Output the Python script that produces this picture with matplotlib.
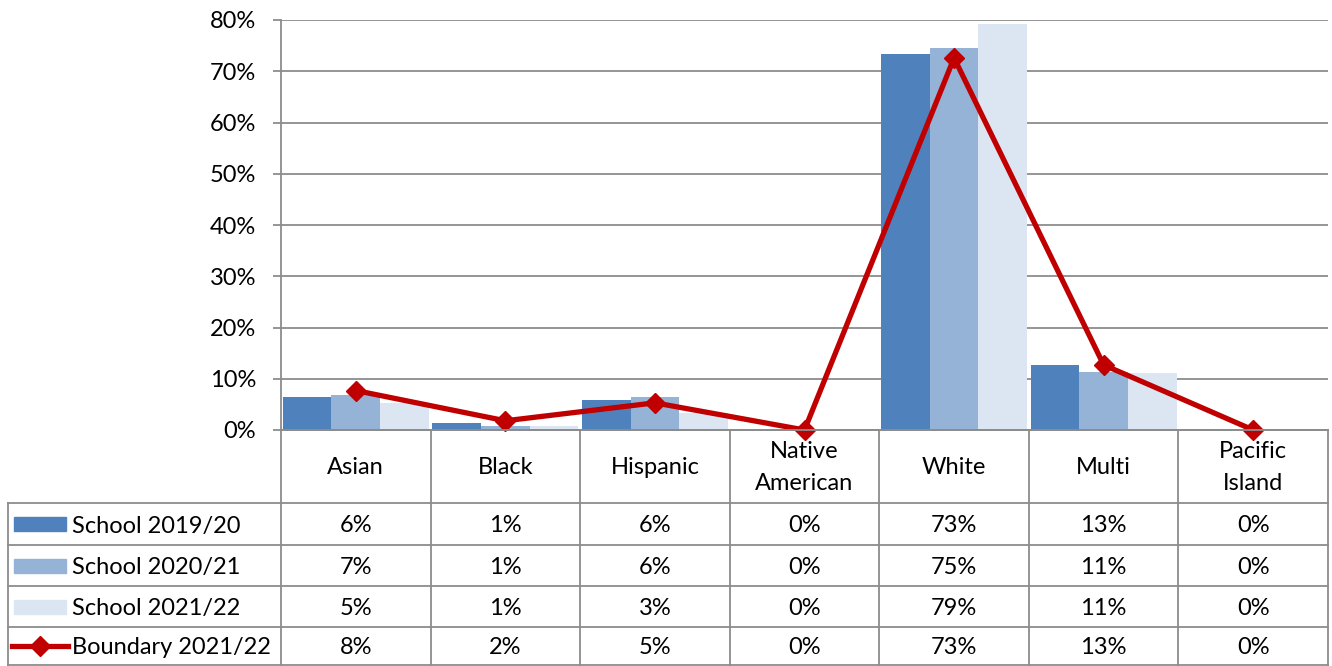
import matplotlib
matplotlib.use('Agg')
import matplotlib.pyplot as plt
from matplotlib.ticker import FuncFormatter
from matplotlib.lines import Line2D

plt.rcParams['font.family'] = ['Lato', 'DejaVu Sans']

categories = ["Asian", "Black", "Hispanic", "Native\nAmerican", "White", "Multi", "Pacific\nIsland"]
school_1920 = [6.4, 1.4, 5.9, 0.0, 73.3, 12.6, 0.0]
school_2021 = [6.8, 0.85, 6.4, 0.0, 74.6, 11.4, 0.0]
school_2122 = [5.2, 0.7, 3.4, 0.0, 79.3, 11.1, 0.0]
boundary_2122 = [7.7, 1.8, 5.3, 0.0, 72.6, 12.7, 0.0]
series_names = ["School 2019/20", "School 2020/21", "School 2021/22", "Boundary 2021/22"]

bar_colors = ['#4F81BD', '#95B3D7', '#DCE6F2']
line_color = '#C00000'
grid_color = '#8C8C8C'

W, H = 1332, 666
fig = plt.figure(figsize=(W / 100, H / 100), dpi=100)

# plot area in pixels
px_left, px_right, px_top, px_bottom = 281, 1328, 20, 430
ax = fig.add_axes([px_left / W, 1 - px_bottom / H,
                   (px_right - px_left) / W, (px_bottom - px_top) / H])

fs = 17
n = len(categories)
xs = list(range(n))
bw = 0.325
for j, vals in enumerate([school_1920, school_2021, school_2122]):
    ax.bar([x + (j - 1) * bw for x in xs], vals, width=bw,
           color=bar_colors[j], zorder=2)
ax.plot(xs, boundary_2122, color=line_color, lw=3.8, marker='D',
        markersize=10, zorder=4, clip_on=False)

ax.set_xlim(-0.5, n - 0.5)
ax.set_ylim(0, 80)
ax.set_yticks(range(0, 81, 10))
ax.yaxis.set_major_formatter(FuncFormatter(lambda v, p: f"{int(v)}%"))
ax.tick_params(axis='y', length=6, width=1.3, color=grid_color,
               labelsize=fs, pad=12)
ax.set_xticks([])
ax.grid(axis='y', color=grid_color, lw=1.3, zorder=1)
ax.set_axisbelow(True)
for side in ['top', 'right']:
    ax.spines[side].set_visible(False)
for side in ['left', 'bottom']:
    ax.spines[side].set_color(grid_color)
    ax.spines[side].set_linewidth(1.3)

# data table drawn underneath in pixel coords
tab = fig.add_axes([0, 0, 1, 1], facecolor='none')
tab.set_xlim(0, W)
tab.set_ylim(H, 0)
tab.axis('off')

cw = (px_right - px_left) / n
col_edges = [px_left + i * cw for i in range(n + 1)]
row_edges = [px_bottom, 503, 545, 586, 627, 665]
tbl_left = 8
lkw = dict(color=grid_color, lw=1.3)

tab.plot([px_left, px_right], [row_edges[0]] * 2, **lkw)
for y in row_edges[1:]:
    tab.plot([tbl_left, px_right], [y, y], **lkw)
for x in col_edges:
    tab.plot([x, x], [row_edges[0], row_edges[-1]], **lkw)
tab.plot([tbl_left, tbl_left], [row_edges[1], row_edges[-1]], **lkw)

for i, cat in enumerate(categories):
    cx = (col_edges[i] + col_edges[i + 1]) / 2
    tab.text(cx, (row_edges[0] + row_edges[1]) / 2 + 1, cat, ha='center',
             va='center', fontsize=fs, linespacing=1.6)

all_series = [school_1920, school_2021, school_2122, boundary_2122]
for r, (name, vals) in enumerate(zip(series_names, all_series)):
    cy = (row_edges[r + 1] + row_edges[r + 2]) / 2
    if r < 3:
        tab.add_patch(plt.Rectangle((14, cy - 7), 52, 14, color=bar_colors[r]))
    else:
        tab.add_line(Line2D([12, 68], [cy, cy], color=line_color, lw=3.8))
        tab.plot([40], [cy], marker='D', color=line_color, markersize=10)
    ty = cy + 2
    tab.text(72, ty, name, ha='left', va='center', fontsize=fs)
    for i, v in enumerate(vals):
        cx = (col_edges[i] + col_edges[i + 1]) / 2
        tab.text(cx, ty, f"{round(v)}%", ha='center', va='center', fontsize=fs)

fig.savefig('out.png', dpi=100)
